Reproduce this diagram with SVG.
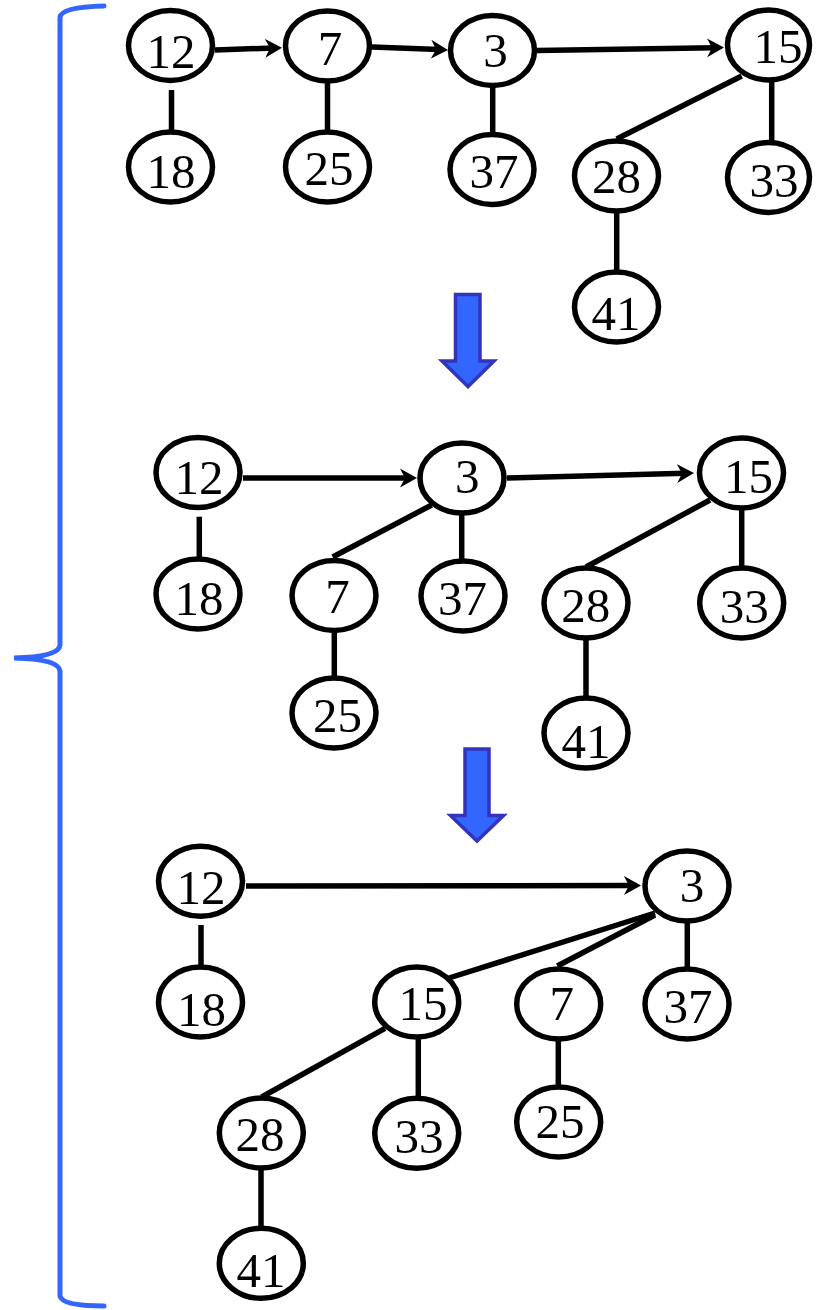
<svg xmlns="http://www.w3.org/2000/svg" width="818" height="1310" viewBox="0 0 818 1310">
<style>
.n ellipse{fill:#fff;stroke:#000;stroke-width:5.5}
.n text{font-family:'Liberation Serif','Times New Roman',serif;font-size:49px;text-anchor:middle;fill:#000}
.e{stroke:#000;stroke-width:5.5;fill:none}
.a{stroke:#000;stroke-width:5.5;fill:none;marker-end:url(#ah)}
.big{fill:#3366FF;stroke:#3333BB;stroke-width:3.5;stroke-linejoin:miter}
.brace{fill:none;stroke:#3366FF;stroke-width:5;stroke-linecap:round}
</style>
<defs>
<marker id="ah" viewBox="0 -10 20 20" refX="8" refY="0" markerWidth="20" markerHeight="20" markerUnits="userSpaceOnUse" orient="auto">
<path d="M0,-9.5 L17,0 L0,9.5 L5,0 Z" fill="#000"/>
</marker>
</defs>
<path class="brace" d="M104,6 Q62,7 60,17 L60,645 Q59,657 14,658 Q59,659 60,671 L60,1296 Q62,1306 104,1306"/>
<g id="transition-arrows">
<polygon class="big" points="455.5,294.5 480,294.5 480,361 494,361 468,386.5 442,361 455.5,361"/>
<polygon class="big" points="465,749 489,749 489,815.5 503.5,815.5 477,841 450.5,815.5 465,815.5"/>
</g>
<g id="connectors">
<line class="a" x1="215" y1="50" x2="273" y2="48"/>
<line class="a" x1="372" y1="47" x2="439" y2="49.6"/>
<line class="a" x1="537" y1="50.5" x2="715" y2="47.7"/>
<line class="e" x1="171.5" y1="90" x2="171.5" y2="130"/>
<line class="e" x1="327.5" y1="80" x2="327.5" y2="130"/>
<line class="e" x1="492.7" y1="85" x2="492.7" y2="134"/>
<line class="e" x1="741.7" y1="76" x2="616.7" y2="139"/>
<line class="e" x1="771.7" y1="80" x2="771.7" y2="142"/>
<line class="e" x1="616.7" y1="211" x2="616.7" y2="271"/>
<line class="a" x1="243" y1="478" x2="408" y2="478"/>
<line class="a" x1="507" y1="478" x2="685" y2="473.3"/>
<line class="e" x1="199.3" y1="516.7" x2="199.3" y2="558"/>
<line class="e" x1="431.7" y1="505" x2="332.7" y2="557"/>
<line class="e" x1="461.7" y1="513" x2="461.7" y2="560"/>
<line class="e" x1="334.3" y1="631" x2="334.3" y2="679"/>
<line class="e" x1="710" y1="500" x2="586" y2="567"/>
<line class="e" x1="741.7" y1="509" x2="741.7" y2="567"/>
<line class="e" x1="586" y1="639" x2="586" y2="697"/>
<line class="a" x1="246" y1="886" x2="632" y2="885.6"/>
<line class="e" x1="201" y1="925" x2="201" y2="966"/>
<line class="e" x1="655" y1="913" x2="449" y2="978"/>
<line class="e" x1="655" y1="915" x2="557.3" y2="966"/>
<line class="e" x1="687.3" y1="920" x2="687.3" y2="969"/>
<line class="e" x1="558.3" y1="1039" x2="558.3" y2="1087"/>
<line class="e" x1="385" y1="1028.3" x2="261.7" y2="1097"/>
<line class="e" x1="418.3" y1="1037" x2="418.3" y2="1098"/>
<line class="e" x1="261" y1="1168" x2="261" y2="1227"/>
</g>
<g id="n12a" class="n"><ellipse cx="170.5" cy="45.5" rx="42" ry="35"/><text x="171" y="68">12</text></g>
<g id="n18a" class="n"><ellipse cx="170.5" cy="167" rx="42" ry="35"/><text x="171" y="188">18</text></g>
<g id="n7a" class="n"><ellipse cx="327.5" cy="46" rx="42" ry="35"/><text x="330" y="65">7</text></g>
<g id="n25a" class="n"><ellipse cx="327.5" cy="167" rx="42" ry="35"/><text x="329" y="185">25</text></g>
<g id="n3a" class="n"><ellipse cx="492.5" cy="50.5" rx="42" ry="35"/><text x="495.5" y="67">3</text></g>
<g id="n37a" class="n"><ellipse cx="492" cy="169.5" rx="42" ry="35"/><text x="494" y="188">37</text></g>
<g id="n15a" class="n"><ellipse cx="768.5" cy="45" rx="41" ry="35"/><text x="778" y="63">15</text></g>
<g id="n28a" class="n"><ellipse cx="616.5" cy="176" rx="42" ry="35"/><text x="616.5" y="193">28</text></g>
<g id="n33a" class="n"><ellipse cx="768.5" cy="177.5" rx="41" ry="35"/><text x="774" y="197">33</text></g>
<g id="n41a" class="n"><ellipse cx="616.5" cy="307" rx="42" ry="35"/><text x="616" y="330">41</text></g>
<g id="n12b" class="n"><ellipse cx="198" cy="472.5" rx="42" ry="35"/><text x="199" y="494">12</text></g>
<g id="n18b" class="n"><ellipse cx="198" cy="594" rx="42" ry="35"/><text x="199" y="615">18</text></g>
<g id="n3b" class="n"><ellipse cx="462" cy="478" rx="42" ry="35"/><text x="467.3" y="493.3">3</text></g>
<g id="n7b" class="n"><ellipse cx="334" cy="595.5" rx="42" ry="35"/><text x="337.5" y="612.7">7</text></g>
<g id="n37b" class="n"><ellipse cx="463" cy="596" rx="42" ry="35"/><text x="462.5" y="615">37</text></g>
<g id="n25b" class="n"><ellipse cx="334" cy="713" rx="42" ry="35"/><text x="337.5" y="731.7">25</text></g>
<g id="n15b" class="n"><ellipse cx="741.5" cy="473" rx="42" ry="35"/><text x="748.5" y="492.7">15</text></g>
<g id="n28b" class="n"><ellipse cx="586" cy="603" rx="42" ry="35"/><text x="585.8" y="621.7">28</text></g>
<g id="n33b" class="n"><ellipse cx="741.7" cy="603" rx="42" ry="35"/><text x="744.3" y="623.3">33</text></g>
<g id="n41b" class="n"><ellipse cx="586" cy="733" rx="42" ry="35"/><text x="586" y="758.3">41</text></g>
<g id="n12c" class="n"><ellipse cx="200.5" cy="881.3" rx="42" ry="35"/><text x="201" y="904">12</text></g>
<g id="n18c" class="n"><ellipse cx="200.5" cy="1002" rx="42" ry="35"/><text x="201.5" y="1026">18</text></g>
<g id="n3c" class="n"><ellipse cx="687" cy="886" rx="42" ry="35"/><text x="692" y="901.7">3</text></g>
<g id="n15c" class="n"><ellipse cx="416.7" cy="1002" rx="42" ry="35"/><text x="423" y="1020">15</text></g>
<g id="n7c" class="n"><ellipse cx="558.7" cy="1004" rx="42" ry="35"/><text x="561.7" y="1020">7</text></g>
<g id="n37c" class="n"><ellipse cx="687" cy="1004" rx="42" ry="35"/><text x="688" y="1022.7">37</text></g>
<g id="n28c" class="n"><ellipse cx="261.3" cy="1133" rx="42" ry="35"/><text x="260" y="1150.7">28</text></g>
<g id="n33c" class="n"><ellipse cx="416.7" cy="1133.3" rx="42" ry="35"/><text x="419" y="1153.3">33</text></g>
<g id="n25c" class="n"><ellipse cx="558.7" cy="1122" rx="42" ry="35"/><text x="560" y="1138.3">25</text></g>
<g id="n41c" class="n"><ellipse cx="261.3" cy="1263.3" rx="42" ry="35"/><text x="261" y="1286.7">41</text></g>
</svg>
